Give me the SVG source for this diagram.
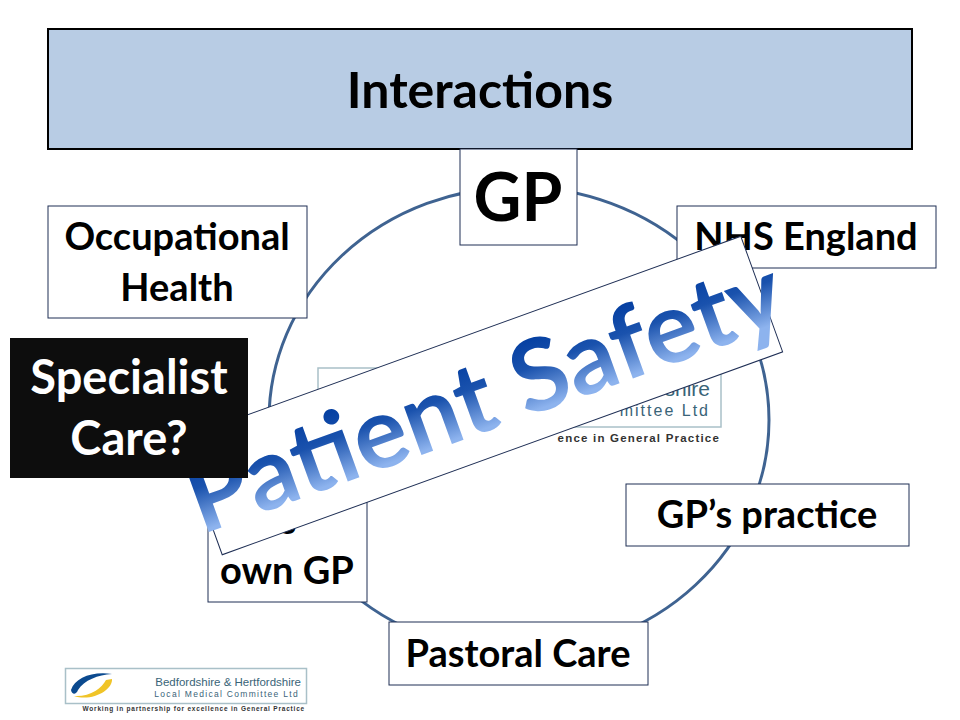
<svg xmlns="http://www.w3.org/2000/svg" width="960" height="720" viewBox="0 0 960 720">
<style>
.box{fill:#fff;stroke:#1f2f55;stroke-width:1}
.t{font-family:"Lato","Open Sans",sans-serif;font-weight:700;fill:#000;text-anchor:middle}
.w{fill:#fff}
.lg{font-family:"Liberation Sans",sans-serif;fill:#3a6478;text-anchor:end}
.lk{font-family:"Liberation Sans",sans-serif;fill:#333;text-anchor:end}
.lb{fill:#fff;stroke:#a9c0c8;stroke-width:1.5}
</style>
<defs>
<linearGradient id="wa" x1="0" y1="0" x2="0" y2="1">
<stop offset="0.15" stop-color="#003b9f"/>
<stop offset="0.45" stop-color="#1a52ad"/>
<stop offset="0.8" stop-color="#8db3ee"/>
</linearGradient>
</defs>
<rect width="960" height="720" fill="#fff"/>
<g id="header"><rect x="48" y="29" width="864" height="120" fill="#b8cce4" stroke="#000" stroke-width="2"/><text class="t" x="480" y="108" font-size="50">Interactions</text></g>
<g id="connectors"><ellipse cx="519" cy="420" rx="250" ry="233" fill="none" stroke="#3f6391" stroke-width="3"/></g>
<g id="logo-centre"><rect class="lb" x="318" y="368" width="403" height="59"/>
<text class="lg" x="710" y="396" font-size="21">shire</text>
<text class="lg" x="710" y="416" font-size="16" letter-spacing="2">mittee Ltd</text>
<text class="lk" x="720" y="442" font-size="11.5" font-weight="700" letter-spacing="1.2">ence in General Practice</text></g>
<g id="gp"><rect class="box" x="460" y="149" width="117" height="96"/><text class="t" x="518" y="221" font-size="66">GP</text></g>
<g id="occupational"><rect class="box" x="48" y="206" width="259" height="112"/><text class="t" x="177" y="250" font-size="38">Occupational</text><text class="t" x="177" y="301" font-size="38">Health</text></g>
<g id="nhs"><rect class="box" x="677" y="206" width="259" height="62"/><text class="t" x="806" y="250" font-size="38">NHS England</text></g>
<g id="gps-practice"><rect class="box" x="626" y="484" width="283" height="62"/><text class="t" x="767" y="528" font-size="38">GP’s practice</text></g>
<g id="own-gp"><rect class="box" x="208" y="480" width="159" height="122"/><text class="t" x="288" y="534" font-size="38">s</text><text class="t" x="287" y="584" font-size="38">own GP</text></g>
<g id="pastoral"><rect class="box" x="389" y="622" width="259" height="63"/><text class="t" x="518" y="667" font-size="38">Pastoral Care</text></g>
<g id="banner" transform="rotate(-19.9 481.5 395.5)"><rect x="183.5" y="334" width="596" height="123" fill="#fff" stroke="#1f2f55" stroke-width="1"/><text x="484" y="431" font-family="Lato,'Open Sans',sans-serif" font-weight="700" font-size="100" text-anchor="middle" fill="url(#wa)">Patient Safety</text></g>
<g id="specialist"><rect x="10" y="338" width="238" height="140" fill="#0d0d0d"/><text class="t w" x="129" y="394" font-size="47">Specialist</text><text class="t w" x="129" y="455" font-size="47">Care?</text></g>
<g id="logo-footer"><rect class="lb" x="65.500" y="668.500" width="241" height="35"/>
<path d="M71 690C75 678 92 671 112 674C98 675 84 680 78 690C76 695 72 695 71 690Z" fill="#0b4a8f"/>
<path d="M74 696C90 697 102 688 106 680L112 679C113 690 92 702 74 696Z" fill="#f0c428"/>
<text class="lg" x="301" y="686" font-size="11.500" letter-spacing="0">Bedfordshire &amp; Hertfordshire</text>
<text class="lg" x="299" y="697" font-size="8.500" letter-spacing="1.300">Local Medical Committee Ltd</text>
<text class="lk" x="305" y="711" font-size="6.500" font-weight="700" letter-spacing="0.800">Working in partnership for excellence in General Practice</text></g>
</svg>
